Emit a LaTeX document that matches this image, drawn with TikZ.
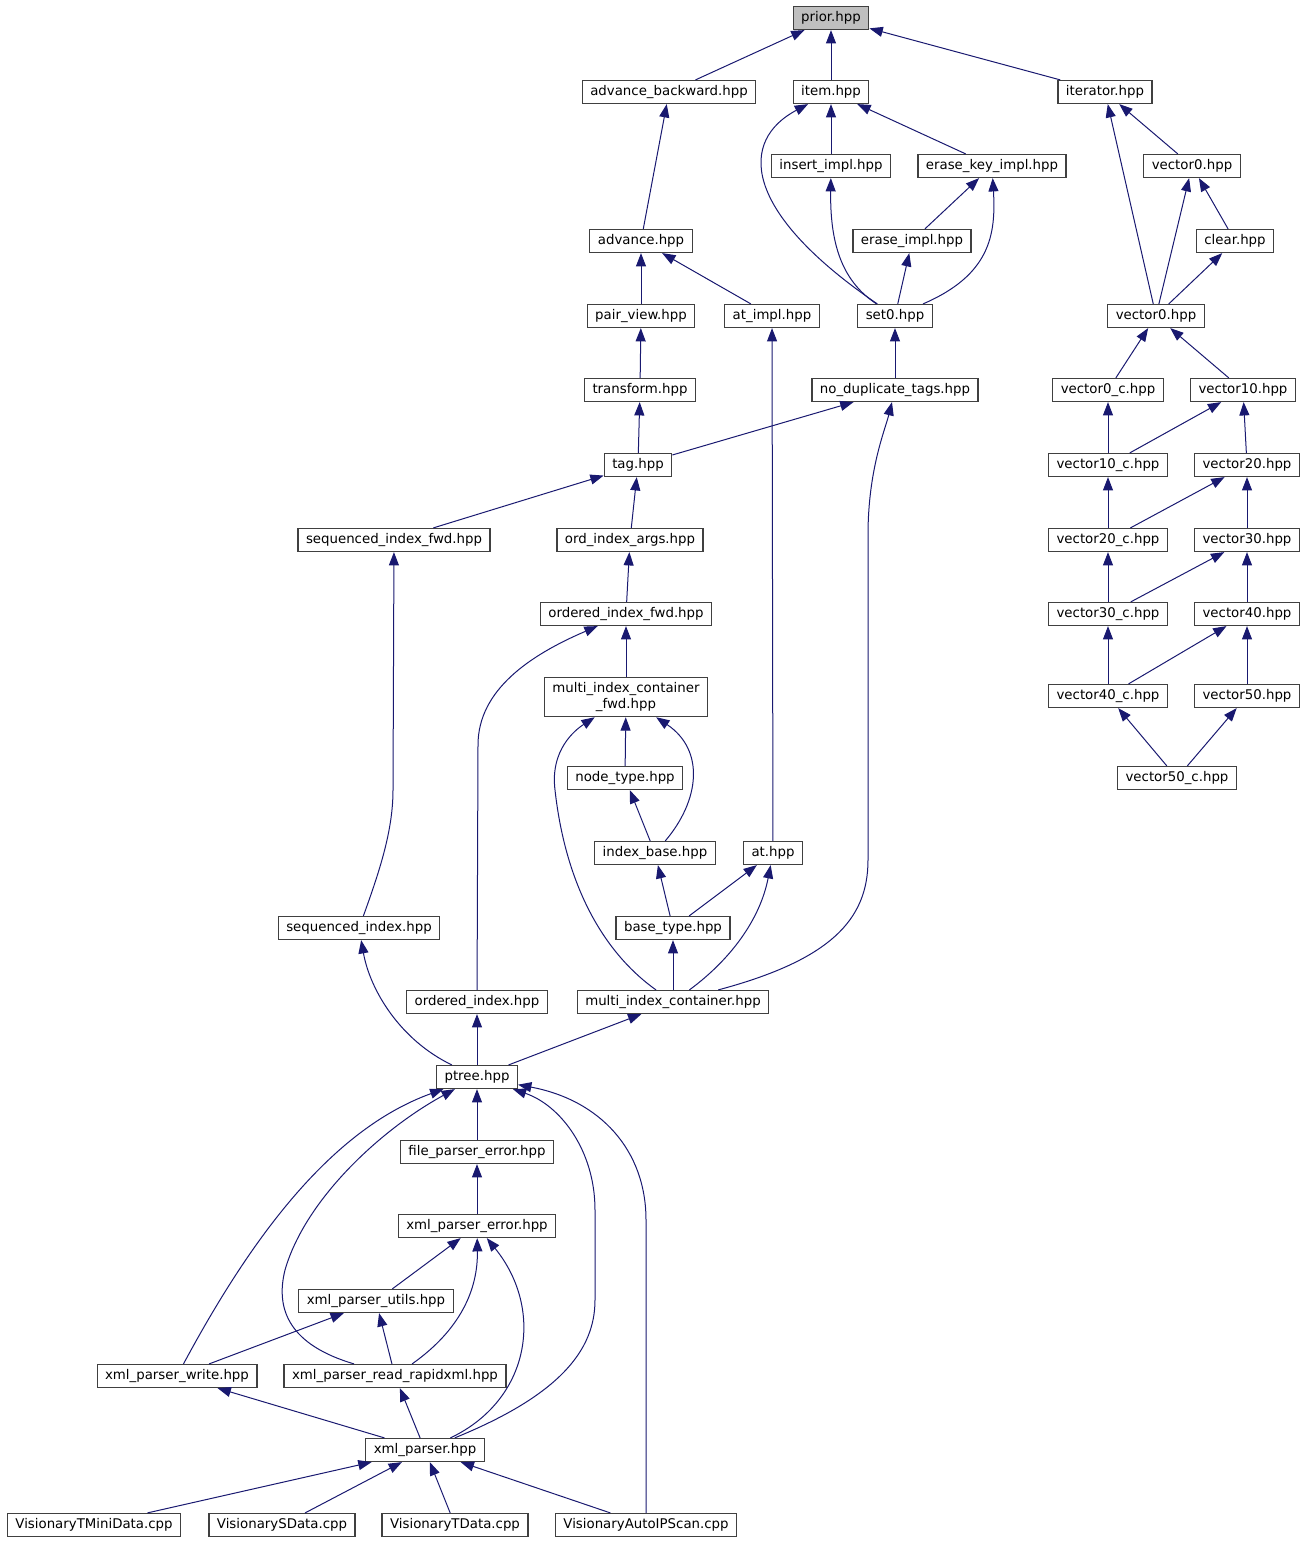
\documentclass[tikz,border=0pt]{standalone}
\usepackage{fontspec}
\setmainfont{DejaVu Sans}
\usepackage{tikz}
\usetikzlibrary{arrows.meta}
\usepackage{xcolor}
\definecolor{edgeblue}{RGB}{25,25,112}
\definecolor{boxgrey}{RGB}{64,64,64}
\definecolor{rootgrey}{RGB}{191,191,191}

\begin{document}
\begin{tikzpicture}[x=0.75pt, y=-0.75pt,
filebox/.style={rectangle, draw=boxgrey, line width=0.9pt, fill=white, minimum height=17.25pt, inner xsep=6pt, inner ysep=1pt, font=\fontsize{10pt}{11.5pt}\selectfont},
rootbox/.style={filebox, fill=rootgrey},
dep/.style={draw=edgeblue, line width=0.75pt, -{Triangle[length=10pt, width=7.5pt]}},
]
\useasboundingbox (0,0) rectangle (1306,1545);
%Nodes
\node[rootbox] (prior) at (831,18) {prior.hpp};
\node[filebox] (advbw) at (669,92) {advance\_backward.hpp};
\node[filebox] (item) at (831,92) {item.hpp};
\node[filebox] (iter) at (1105,92) {iterator.hpp};
\node[filebox] (insimpl) at (831,166) {insert\_impl.hpp};
\node[filebox] (erasekey) at (992,166) {erase\_key\_impl.hpp};
\node[filebox] (vecA) at (1192,166) {vector0.hpp};
\node[filebox] (advance) at (641,241) {advance.hpp};
\node[filebox] (eraseimpl) at (912,241) {erase\_impl.hpp};
\node[filebox] (clear) at (1235,241) {clear.hpp};
\node[filebox] (pairview) at (641,316) {pair\_view.hpp};
\node[filebox] (atimpl) at (772,316) {at\_impl.hpp};
\node[filebox] (setzero) at (895,316) {set0.hpp};
\node[filebox] (vecB) at (1156,316) {vector0.hpp};
\node[filebox] (transform) at (640,390) {transform.hpp};
\node[filebox] (nodup) at (895,390) {no\_duplicate\_tags.hpp};
\node[filebox] (vzc) at (1108,390) {vector0\_c.hpp};
\node[filebox] (vten) at (1243,390) {vector10.hpp};
\node[filebox] (tag) at (638,465) {tag.hpp};
\node[filebox] (vtenc) at (1108,465) {vector10\_c.hpp};
\node[filebox] (vtwenty) at (1247,465) {vector20.hpp};
\node[filebox] (seqfwd) at (394,540) {sequenced\_index\_fwd.hpp};
\node[filebox] (ordargs) at (630,540) {ord\_index\_args.hpp};
\node[filebox] (vtwentyc) at (1108,540) {vector20\_c.hpp};
\node[filebox] (vthirty) at (1247,540) {vector30.hpp};
\node[filebox] (ordfwd) at (626,614) {ordered\_index\_fwd.hpp};
\node[filebox] (vthirtyc) at (1108,614) {vector30\_c.hpp};
\node[filebox] (vforty) at (1247,614) {vector40.hpp};
\node[filebox, align=center, inner ysep=4pt] (micfwd) at (626,697) {multi\_index\_container\\\_fwd.hpp};
\node[filebox] (vfortyc) at (1108,696) {vector40\_c.hpp};
\node[filebox] (vfifty) at (1247,696) {vector50.hpp};
\node[filebox] (nodetype) at (625,778) {node\_type.hpp};
\node[filebox] (vfiftyc) at (1177,778) {vector50\_c.hpp};
\node[filebox] (idxbase) at (655,853) {index\_base.hpp};
\node[filebox] (athpp) at (773,853) {at.hpp};
\node[filebox] (seqidx) at (359,928) {sequenced\_index.hpp};
\node[filebox] (basetype) at (673,928) {base\_type.hpp};
\node[filebox] (ordidx) at (477,1002) {ordered\_index.hpp};
\node[filebox] (mic) at (673,1002) {multi\_index\_container.hpp};
\node[filebox] (ptree) at (477,1077) {ptree.hpp};
\node[filebox] (fperr) at (477,1152) {file\_parser\_error.hpp};
\node[filebox] (xmlerr) at (477,1226) {xml\_parser\_error.hpp};
\node[filebox] (xmlutils) at (376,1301) {xml\_parser\_utils.hpp};
\node[filebox] (xmlwrite) at (177,1376) {xml\_parser\_write.hpp};
\node[filebox] (xmlread) at (395,1376) {xml\_parser\_read\_rapidxml.hpp};
\node[filebox] (xmlparser) at (425,1450) {xml\_parser.hpp};
\node[filebox] (tmini) at (94,1525) {VisionaryTMiniData.cpp};
\node[filebox] (sdata) at (282,1525) {VisionarySData.cpp};
\node[filebox] (tdata) at (455,1525) {VisionaryTData.cpp};
\node[filebox] (autoip) at (646,1525) {VisionaryAutoIPScan.cpp};

%Edges
\path (advbw) edge[dep] (prior)
	(item) edge[dep] (prior)
	(iter) edge[dep] (prior)
	(advance) edge[dep] (advbw)
	(insimpl) edge[dep] (item)
	(erasekey) edge[dep] (item)
	(vecA) edge[dep] (iter)
	(vecB) edge[dep] (iter)
	(eraseimpl) edge[dep] (erasekey)
	(setzero) edge[dep] (eraseimpl)
	(clear) edge[dep] (vecA)
	(vecB) edge[dep] (vecA)
	(vecB) edge[dep] (clear)
	(pairview) edge[dep] (advance)
	(atimpl) edge[dep] (advance)
	(transform) edge[dep] (pairview)
	(nodup) edge[dep] (setzero)
	(vzc) edge[dep] (vecB)
	(vten) edge[dep] (vecB)
	(tag) edge[dep] (transform)
	(tag) edge[dep] (nodup)
	(athpp) edge[dep] (atimpl)
	(vtenc) edge[dep] (vzc)
	(vtenc) edge[dep] (vten)
	(vtwenty) edge[dep] (vten)
	(seqfwd) edge[dep] (tag)
	(ordargs) edge[dep] (tag)
	(vtwentyc) edge[dep] (vtenc)
	(vtwentyc) edge[dep] (vtwenty)
	(vthirty) edge[dep] (vtwenty)
	(ordfwd) edge[dep] (ordargs)
	(vthirtyc) edge[dep] (vtwentyc)
	(vthirtyc) edge[dep] (vthirty)
	(vforty) edge[dep] (vthirty)
	(micfwd) edge[dep] (ordfwd)
	(vfortyc) edge[dep] (vthirtyc)
	(vfortyc) edge[dep] (vforty)
	(vfifty) edge[dep] (vforty)
	(nodetype) edge[dep] (micfwd)
	(vfiftyc) edge[dep] (vfortyc)
	(vfiftyc) edge[dep] (vfifty)
	(idxbase) edge[dep] (nodetype)
	(basetype) edge[dep] (idxbase)
	(basetype) edge[dep] (athpp)
	(mic) edge[dep] (basetype)
	(ptree) edge[dep] (ordidx)
	(ptree) edge[dep] (mic)
	(fperr) edge[dep] (ptree)
	(xmlerr) edge[dep] (fperr)
	(xmlutils) edge[dep] (xmlerr)
	(xmlwrite) edge[dep] (xmlutils)
	(xmlread) edge[dep] (xmlutils)
	(xmlparser) edge[dep] (xmlwrite)
	(xmlparser) edge[dep] (xmlread)
	(tmini) edge[dep] (xmlparser)
	(sdata) edge[dep] (xmlparser)
	(tdata) edge[dep] (xmlparser)
	(autoip) edge[dep] (xmlparser);

% curved ones
\draw[dep] (setzero) .. controls (740,210) and (740,140) .. (item);
\draw[dep] (setzero) .. controls (840,280) and (830,240) .. (insimpl);
\draw[dep] (setzero) .. controls (990,275) and (996,235) .. (erasekey);
\draw[dep] (mic) .. controls (830,960) and (868,920) .. (868,860) -- (868,535) .. controls (868,470) and (885,430) .. (nodup);
\draw[dep] (seqidx) .. controls (380,870) and (393,830) .. (393,790) -- (seqfwd);
\draw[dep] (ordidx) -- (478,745) .. controls (478,690) and (530,655) .. (ordfwd);
\draw[dep] (mic) .. controls (600,950) and (565,880) .. (555,790) .. controls (550,750) and (575,730) .. (micfwd);
\draw[dep] (idxbase) .. controls (700,800) and (705,750) .. (micfwd);
\draw[dep] (mic) .. controls (730,960) and (760,920) .. (athpp);
\draw[dep] (ptree) .. controls (400,1040) and (370,990) .. (seqidx);
\draw[dep] (xmlwrite) .. controls (250,1240) and (330,1130) .. (ptree);
\draw[dep] (xmlread) .. controls (290,1345) and (275,1310) .. (285,1270) .. controls (305,1200) and (380,1130) .. (ptree);
\draw[dep] (xmlparser) .. controls (560,1395) and (595,1350) .. (595,1300) -- (595,1210) .. controls (595,1150) and (560,1105) .. (ptree);
\draw[dep] (autoip) -- (646,1220) .. controls (646,1150) and (600,1100) .. (ptree);
\draw[dep] (xmlread) .. controls (460,1330) and (478,1290) .. (xmlerr);
\draw[dep] (xmlparser) .. controls (530,1400) and (545,1310) .. (xmlerr);

\end{tikzpicture}
\end{document}
